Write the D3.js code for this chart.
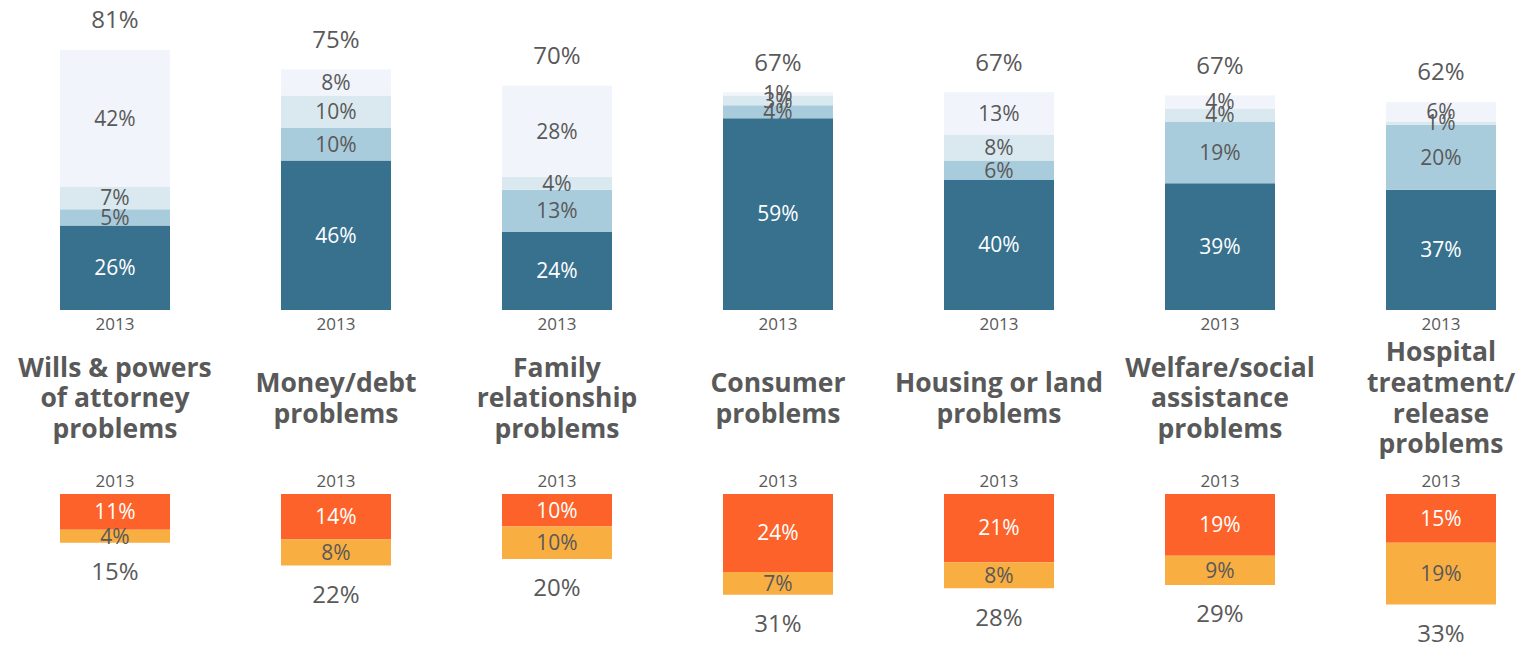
<!DOCTYPE html>
<html>
<head>
<meta charset="utf-8">
<script src="https://cdn.jsdelivr.net/npm/d3@7"></script>
<style>
  body { margin: 0; background: #fff; }
  text { font-family: "Open Sans", sans-serif; }
</style>
</head>
<body>
<div id="chart"></div>
<script>
var width = 1532, height = 648;

// categories and values (percent)
var categories = ["Wills", "Money", "Family", "Consumer", "Housing", "Welfare", "Hospital"];
var titles = [
    ["Wills & powers", "of attorney", "problems"],
    ["Money/debt", "problems"],
    ["Family", "relationship", "problems"],
    ["Consumer", "problems"],
    ["Housing or land", "problems"],
    ["Welfare/social", "assistance", "problems"],
    ["Hospital", "treatment/", "release", "problems"]
];
var year = "2013";

// top stack, bottom to top
var topA = [26, 46, 24, 59, 40, 39, 37];
var topB = [5, 10, 13, 4, 6, 19, 20];
var topC = [7, 10, 4, 3, 8, 4, 1];
var topD = [42, 8, 28, 1, 13, 4, 6];
var topTotals = [81, 75, 70, 67, 67, 67, 62];

// bottom stack, top to bottom
var botA = [11, 14, 10, 24, 21, 19, 15];
var botB = [4, 8, 10, 7, 8, 9, 19];
var botTotals = [15, 22, 20, 31, 28, 29, 33];

var topColors = ["#37718e", "#a9ccdc", "#dae9ef", "#f1f4fa"];
var topText = ["#ffffff", "#595959", "#595959", "#595959"];
var botColors = ["#fc6229", "#f9ae42"];
var botText = ["#ffffff", "#595959"];
var grey = "#595959";

var svg = d3.select("#chart")
    .append("svg")
    .attr("width", width)
    .attr("height", height);

var x = d3.scaleBand()
    .domain(categories)
    .range([4.75, 1551.25])
    .paddingInner(0.5023)
    .paddingOuter(0.25);

var h = d3.scaleLinear().domain([0, 100]).range([0, 325]);

var topBase = 310, botBase = 494;

var topSeries = [topA, topB, topC, topD];

function cx(d) { return x(d) + x.bandwidth() / 2 }

// top stacked bars
var topRows = categories.map(function (c, i) {
    var row = { cat: c };
    topSeries.forEach(function (s, k) { row["s" + k] = s[i] });
    return row;
});
var topStack = d3.stack().keys(["s0", "s1", "s2", "s3"])(topRows);

topStack.forEach(function (layer, k) {
    svg.append("g").selectAll("rect")
        .data(layer)
        .enter()
        .append("rect")
        .attr("x", function (d) { return x(d.data.cat) })
        .attr("y", function (d) { return topBase - h(d[1]) })
        .attr("width", x.bandwidth())
        .attr("height", function (d) { return h(d[1]) - h(d[0]) })
        .attr("fill", topColors[k]);
});
topStack.forEach(function (layer, k) {
    svg.append("g").selectAll("text")
        .data(layer)
        .enter()
        .append("text")
        .attr("x", function (d) { return cx(d.data.cat) })
        .attr("y", function (d) { return topBase - h((d[0] + d[1]) / 2) })
        .attr("dy", "0.35em")
        .attr("text-anchor", "middle")
        .attr("font-size", 21)
        .attr("fill", topText[k])
        .text(function (d) { return (d[1] - d[0]) + "%" });
});

// top totals
svg.append("g").selectAll("text")
    .data(categories)
    .enter()
    .append("text")
    .attr("x", cx)
    .attr("y", function (d, i) { return topBase - h(d3.sum(topSeries, function (s) { return s[i] })) - 30 })
    .attr("dy", "0.35em")
    .attr("text-anchor", "middle")
    .attr("font-size", 24)
    .attr("fill", grey)
    .text(function (d, i) { return topTotals[i] + "%" });

// year labels
svg.append("g").selectAll("text")
    .data(categories)
    .enter()
    .append("text")
    .attr("x", cx)
    .attr("y", topBase + 14)
    .attr("dy", "0.35em")
    .attr("text-anchor", "middle")
    .attr("font-size", 17)
    .attr("fill", grey)
    .text(year);

svg.append("g").selectAll("text")
    .data(categories)
    .enter()
    .append("text")
    .attr("x", cx)
    .attr("y", botBase - 13)
    .attr("dy", "0.35em")
    .attr("text-anchor", "middle")
    .attr("font-size", 17)
    .attr("fill", grey)
    .text(year);

// category titles
var lineH = 30.7, midY = 398;
svg.append("g").selectAll("text")
    .data(categories)
    .enter()
    .append("text")
    .attr("text-anchor", "middle")
    .attr("font-size", 26.5)
    .attr("font-weight", "bold")
    .attr("fill", grey)
    .each(function (d, i) {
        var lines = titles[i];
        var t = d3.select(this);
        lines.forEach(function (line, j) {
            t.append("tspan")
                .attr("x", cx(d))
                .attr("y", midY + (j - (lines.length - 1) / 2) * lineH)
                .attr("dy", "0.35em")
                .text(line);
        });
    });

// bottom stacked bars
var botRows = categories.map(function (c, i) {
    return { cat: c, s0: botA[i], s1: botB[i] };
});
var botStack = d3.stack().keys(["s0", "s1"])(botRows);

botStack.forEach(function (layer, k) {
    svg.append("g").selectAll("rect")
        .data(layer)
        .enter()
        .append("rect")
        .attr("x", function (d) { return x(d.data.cat) })
        .attr("y", function (d) { return botBase + h(d[0]) })
        .attr("width", x.bandwidth())
        .attr("height", function (d) { return h(d[1]) - h(d[0]) })
        .attr("fill", botColors[k]);
});
botStack.forEach(function (layer, k) {
    svg.append("g").selectAll("text")
        .data(layer)
        .enter()
        .append("text")
        .attr("x", function (d) { return cx(d.data.cat) })
        .attr("y", function (d) { return botBase + h((d[0] + d[1]) / 2) })
        .attr("dy", "0.35em")
        .attr("text-anchor", "middle")
        .attr("font-size", 21)
        .attr("fill", botText[k])
        .text(function (d) { return (d[1] - d[0]) + "%" });
});

svg.append("g").selectAll("text")
    .data(categories)
    .enter()
    .append("text")
    .attr("x", cx)
    .attr("y", function (d, i) { return botBase + h(botA[i] + botB[i]) + 29 })
    .attr("dy", "0.35em")
    .attr("text-anchor", "middle")
    .attr("font-size", 24)
    .attr("fill", grey)
    .text(function (d, i) { return botTotals[i] + "%" });
</script>
</body>
</html>
